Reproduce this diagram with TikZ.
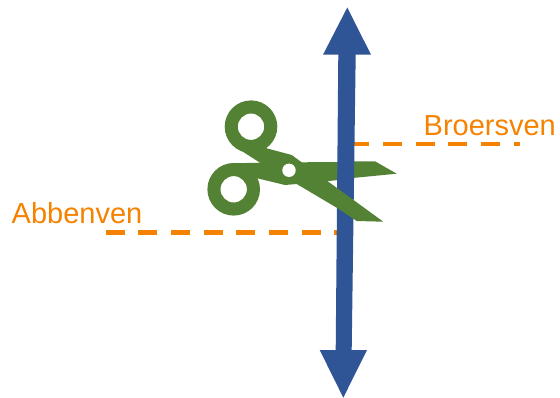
\documentclass[tikz,border=0pt]{standalone}
\usepackage{fontspec}
\setmainfont{Liberation Sans}
\definecolor{arrowblue}{HTML}{2F5597}
\definecolor{scissorgreen}{HTML}{548235}
\definecolor{dashorange}{HTML}{F58200}
\definecolor{labelorange}{HTML}{F58200}
\tikzset{
  dashline/.style={draw=dashorange,line width=4.6pt,dash pattern=on 19pt off 13.7pt},
  place/.style={text=labelorange,font=\fontsize{29}{30}\selectfont,inner sep=0pt,anchor=base west},
  green/.style={fill=scissorgreen,draw=none},
  bluefill/.style={fill=arrowblue,draw=none},
  hole/.style={fill=white,draw=none}
}
\begin{document}
\begin{tikzpicture}[x=1pt,y=-1pt]
\useasboundingbox (0,0) rectangle (560,398);
\coordinate (aStart) at (105.5,232.3);
\coordinate (aEnd) at (340,232.3);
\coordinate (bStart) at (350.3,144);
\coordinate (bEnd) at (520,144);
\draw[dashline] (aStart) -- (aEnd);
\draw[dashline] (bStart) -- (bEnd);
\node[place] (abben) at (11.5,223.5) {Abbenven};
\node[place] (broers) at (423.5,136) {Broersven};
% blade under the arrow, with its ring
\fill[green,even odd rule] (233.7,189.3) circle (26.3) (233.7,189.3) circle (13.2);
\fill[green] (233,163.3) -- (260,162.7) -- (301.7,162.3) -- (339,162) -- (352.7,161.3) -- (375,161.3) -- (396.7,173.7) -- (352.7,178) -- (339,180) -- (296.7,184) -- (285,185) -- (257.3,178.3) -- (245,175) -- cycle;
% arrow
\fill[bluefill] (347.3,7.5) -- (371,54.7) -- (355.7,54.7) -- (351.7,350) -- (367,350) -- (343.3,397.7) -- (319.7,350) -- (335.7,350) -- (338.3,54.7) -- (323,54.7) -- cycle;
% blade over the arrow, with its ring
\fill[green,even odd rule] (251,126.7) circle (26.3) (251,126.7) circle (13.2);
\fill[green] (235,146.7) -- (260,162.7) -- (296.7,184) -- (337.7,208.3) -- (356.7,221) -- (383.3,221.7) -- (328.3,181.7) -- (301.7,162.3) -- (291.7,155) -- (266.7,148.3) -- (258,141) -- cycle;
\fill[hole] (289,170.3) circle (6.7);
\end{tikzpicture}
\end{document}
